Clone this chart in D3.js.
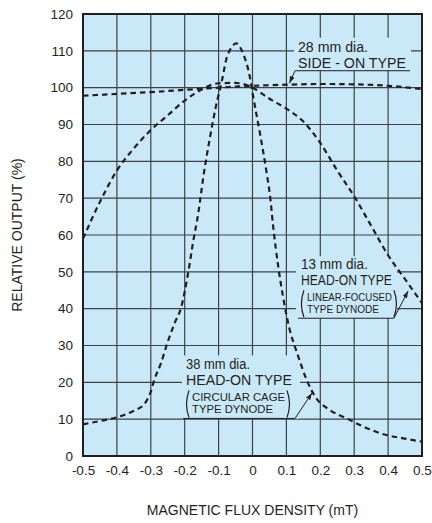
<!DOCTYPE html>
<html><head><meta charset="utf-8">
<script src="https://cdn.jsdelivr.net/npm/d3@7"></script>
<style>
html,body{margin:0;padding:0;background:#fff;}
text{font-family:"Liberation Sans",Arial,Helvetica,sans-serif;fill:#231f20;}
</style></head>
<body><svg id="c" width="432" height="523"></svg>
<script>
// ---- data ----
const xTicks = [-0.5,-0.4,-0.3,-0.2,-0.1,0,0.1,0.2,0.3,0.4,0.5];
const xTickLabels = ["-0.5","-0.4","-0.3","-0.2","-0.1","0","0.1","0.2","0.3","0.4","0.5"];
const yTicks = [0,10,20,30,40,50,60,70,80,90,100,110,120];
const xTitle = "MAGNETIC FLUX DENSITY (mT)";
const yTitle = "RELATIVE OUTPUT (%)";

// 28 mm dia. side-on type
const sideOnX = [-0.5,-0.4,-0.3,-0.2,-0.1,0,0.1,0.2,0.3,0.4,0.5];
const sideOnY = [97.8,98.3,98.8,99.4,100,100.5,100.8,101,100.9,100.5,99.6];

// 13 mm dia. head-on type (linear-focused)
const linearX = [-0.5,-0.45,-0.4,-0.35,-0.3,-0.25,-0.2,-0.15,-0.1,-0.05,0,0.05,0.1,0.15,0.2,0.25,0.3,0.35,0.4,0.45,0.5];
const linearY = [59,69,77.5,83.5,88.5,92.5,96.5,99.5,101.2,101.3,100,97,94.3,90.8,85,77.5,70.5,62.5,54.5,48,41.5];

// 38 mm dia. head-on type (circular cage)
const cageX = [-0.5,-0.45,-0.4,-0.35,-0.32,-0.3,-0.29,-0.27,-0.25,-0.23,-0.21,-0.19,-0.175,-0.16,-0.145,-0.125,-0.11,-0.09,-0.075,-0.047,-0.028,-0.008,0.002,0.022,0.042,0.052,0.061,0.076,0.09,0.11,0.125,0.135,0.16,0.185,0.228,0.278,0.327,0.386,0.445,0.5];
const cageY = [8.6,9.5,10.5,12.3,14,17.5,20.6,25.2,31,36,40.5,49.6,58.2,65.9,75.8,86.7,94,102,108.4,112,109.3,103,97.6,87.6,76.7,70.4,62.3,51.4,43.3,34.2,29.7,27,20.6,16.1,12.5,10.2,8,5.9,4.8,3.9];

// annotations: underline start (data units), leader target (data units), text lines
const annX = [0.1254, 0.134, -0.205];
const annY = [104.6, 37.4, 10.2];
const annTargetX = [0.109, 0.459, 0.1755];
const annTargetY = [101.2, 44.8, 17.1];
const annLines = [
  ["28 mm dia.","SIDE - ON TYPE"],
  ["13 mm dia.","HEAD-ON TYPE"],
  ["38 mm dia.","HEAD-ON TYPE"]
];
const annSub = [
  [],
  ["LINEAR-FOCUSED","TYPE DYNODE"],
  ["CIRCULAR CAGE","TYPE DYNODE"]
];

// ---- layout ----
const svg = d3.select("#c");
const m = {l:83, r:10, t:14, b:67};
const W = 432, H = 523;
const x = d3.scaleLinear().domain([-0.5,0.5]).range([m.l, W-m.r]);
const y = d3.scaleLinear().domain([0,120]).range([H-m.b, m.t]);
const bg = "#c9e9f9";

svg.append("rect").attr("x",x(-0.5)).attr("y",y(120))
  .attr("width",x(0.5)-x(-0.5)).attr("height",y(0)-y(120)).attr("fill",bg);

// grid
const grid = svg.append("g");
grid.selectAll(".gx").data(xTicks.slice(1,-1)).join("line")
  .attr("x1",d=>x(d)).attr("x2",d=>x(d)).attr("y1",y(0)).attr("y2",y(120))
  .attr("stroke","#3d4246").attr("stroke-width",1.2);
grid.selectAll(".gy").data(yTicks.slice(1,-1)).join("line")
  .attr("y1",d=>y(d)).attr("y2",d=>y(d)).attr("x1",x(-0.5)).attr("x2",x(0.5))
  .attr("stroke","#3d4246").attr("stroke-width",1.2);

// annotation masks
const masks = [
  {dx:-1, dy:-33, w:117, h:33},
  {dx:-2, dy:-62, w:101, h:62},
  {dx:-1, dy:-63, w:118, h:63}
];
masks.forEach((mk,i)=>{
  svg.append("rect").attr("x",x(annX[i])+mk.dx).attr("y",y(annY[i])+mk.dy)
    .attr("width",mk.w).attr("height",mk.h).attr("fill",bg);
});

// curves
const line = d3.line().x(d=>x(d[0])).y(d=>y(d[1])).curve(d3.curveMonotoneX);
const series = [
  d3.zip(sideOnX, sideOnY),
  d3.zip(linearX, linearY),
  d3.zip(cageX, cageY)
];
svg.append("g").selectAll("path").data(series).join("path")
  .attr("d",line).attr("fill","none").attr("stroke","#231f20")
  .attr("stroke-width",2.2).attr("stroke-dasharray","5.5,4");

// frame
svg.append("rect").attr("x",x(-0.5)).attr("y",y(120))
  .attr("width",x(0.5)-x(-0.5)).attr("height",y(0)-y(120))
  .attr("fill","none").attr("stroke","#231f20").attr("stroke-width",2);

// axes labels
const xAxis = d3.axisBottom(x).tickValues(xTicks).tickFormat((d,i)=>xTickLabels[i]).tickSize(0).tickPadding(9);
const gx = svg.append("g").attr("transform",`translate(0,${y(0)})`).call(xAxis);
gx.select(".domain").remove();
gx.selectAll("text").attr("font-size",13.5).attr("fill","#231f20")
  .style("font-family","'Liberation Sans',Arial,sans-serif");

const yAxis = d3.axisLeft(y).tickValues(yTicks).tickSize(0).tickPadding(10);
const gy = svg.append("g").attr("transform",`translate(${x(-0.5)},0)`).call(yAxis);
gy.select(".domain").remove();
gy.selectAll("text").attr("font-size",13.5).attr("fill","#231f20")
  .style("font-family","'Liberation Sans',Arial,sans-serif");

svg.append("text").attr("x",(x(-0.5)+x(0.5))/2).attr("y",515)
  .attr("text-anchor","middle").attr("font-size",14).text(xTitle);
svg.append("text").attr("transform",`translate(22,${(y(0)+y(120))/2}) rotate(-90)`)
  .attr("text-anchor","middle").attr("font-size",14).text(yTitle);

// arrow marker
svg.append("defs").append("marker").attr("id","ah").attr("viewBox","0 0 10 10")
  .attr("refX",10).attr("refY",5).attr("markerWidth",7).attr("markerHeight",7)
  .attr("orient","auto").append("path").attr("d","M0,1.5L10,5L0,8.5Z").attr("fill","#231f20");

// annotations
const mainLen = [[70,108],[67,91],[64,106]];
const subLen = [[],[85,72],[93,81]];
const ulLen = [115, 96, 112];
annLines.forEach((lines,i)=>{
  const ax = x(annX[i]), ay = y(annY[i]);
  const g = svg.append("g");
  const hasSub = annSub[i].length>0;
  const base = hasSub ? [-49.5,-33] : [-19,-2.7];
  const tx = 3;
  lines.forEach((t,j)=>{
    g.append("text").attr("x",ax+tx).attr("y",ay+base[j]).attr("font-size",14)
      .attr("textLength",mainLen[i][j]).attr("lengthAdjust","spacingAndGlyphs").text(t);
  });
  if(hasSub){
    const sb = [-17.5,-5];
    annSub[i].forEach((t,j)=>{
      g.append("text").attr("x",ax+9).attr("y",ay+sb[j]).attr("font-size",11.5)
        .attr("textLength",subLen[i][j]).attr("lengthAdjust","spacingAndGlyphs").text(t);
    });
    // parentheses
    const lx = ax+4, rx = ax+9+Math.max(...subLen[i])+4, top = ay-28, bot = ay-1;
    g.append("path").attr("d",`M${lx+2},${top} Q${lx-3},${(top+bot)/2} ${lx+2},${bot}`)
      .attr("fill","none").attr("stroke","#231f20").attr("stroke-width",1.2);
    g.append("path").attr("d",`M${rx-2},${top} Q${rx+3},${(top+bot)/2} ${rx-2},${bot}`)
      .attr("fill","none").attr("stroke","#231f20").attr("stroke-width",1.2);
  }
  g.append("line").attr("x1",ax).attr("x2",ax+ulLen[i]).attr("y1",ay).attr("y2",ay)
    .attr("stroke","#231f20").attr("stroke-width",1);
  const sx = i===0 ? ax : ax+ulLen[i];
  g.append("line").attr("x1",sx).attr("y1",ay)
    .attr("x2",x(annTargetX[i])).attr("y2",y(annTargetY[i]))
    .attr("stroke","#231f20").attr("stroke-width",1).attr("marker-end","url(#ah)");
});
</script></body></html>
